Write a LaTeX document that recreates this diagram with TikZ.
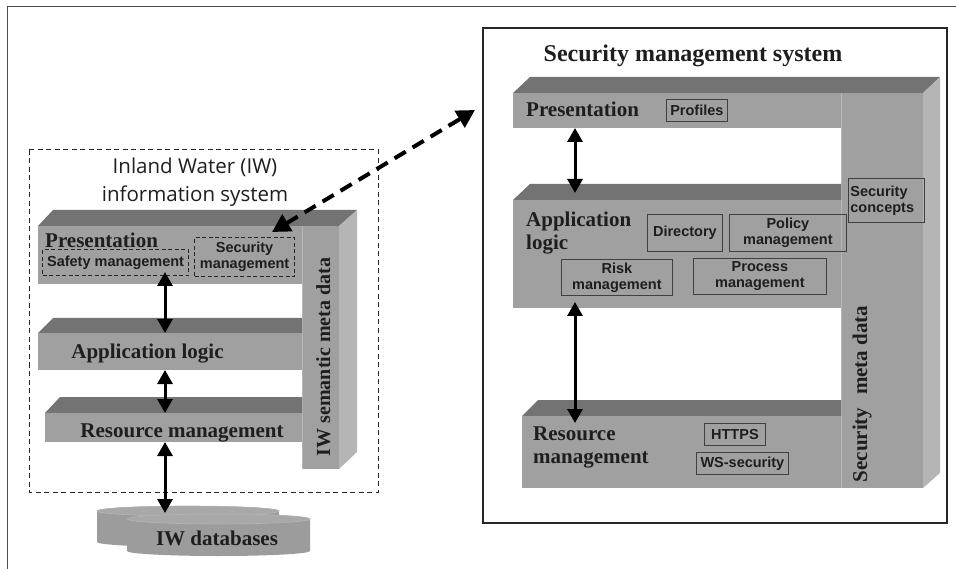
\documentclass[tikz,border=0pt]{standalone}
\usepackage{fontspec}
\setmainfont{Liberation Serif}
\setsansfont{Liberation Sans}
\newfontfamily\captionfont{Open Sans}
\usetikzlibrary{arrows.meta}
\definecolor{gfront}{HTML}{A0A0A0}
\definecolor{gtop}{HTML}{737373}
\definecolor{gside}{HTML}{B5B5B5}
\definecolor{gdb}{HTML}{9C9C9C}
\definecolor{gdbtop}{HTML}{A8A8A8}
\definecolor{ink}{HTML}{1E1E1E}
\begin{document}
\begin{tikzpicture}[x=1pt,y=-1pt,
  frontface/.style={fill=gfront},
  topface/.style={fill=gtop},
  sideface/.style={fill=gside},
  layertitle/.style={font=\fontsize{21}{23}\selectfont\bfseries, text=ink, inner sep=0pt, align=left},
  itembox/.style={draw=black!75, line width=0.8pt, font=\fontsize{14.5}{16}\selectfont\sffamily\bfseries,
    text=ink, inner sep=1pt, align=center, anchor=north west},
  dashbox/.style={draw=black!85, line width=1.2pt, dash pattern=on 4pt off 2.5pt,
    font=\fontsize{14.5}{16}\selectfont\sffamily\bfseries, text=ink, inner sep=1pt, align=center, anchor=north west},
  biarrow/.style={line width=3pt, {Triangle[width=15pt,length=14pt]}-{Triangle[width=15pt,length=14pt]}},
  linkarrow/.style={line width=4pt, dash pattern=on 13pt off 8pt,
    {Triangle[width=19pt,length=18pt]}-{Triangle[width=19pt,length=18pt]}},
]
\useasboundingbox (0,0) rectangle (956,569);

% frame along the top and left edges
\draw[line width=1pt, black!70] (7,569) -- (7,6.5) -- (956,6.5);

% ---------- Inland Water information system ----------
\draw[black!85, line width=1pt, dash pattern=on 5pt off 3.5pt] (29,150) rectangle (378,492);
\node[font=\captionfont\fontsize{20.5}{28}\selectfont, align=center, text=ink] (iwcap) at (195,182)
  {Inland Water (IW)\\information system};

% top faces and meta-data column
\fill[topface] (38,226) -- (53,210) -- (357,210) -- (339,226) -- cycle;
\fill[sideface] (339,226) -- (357,210) -- (357,452) -- (339,469) -- cycle;
\fill[frontface] (302,226) rectangle (339,469);
\draw[gside, line width=0.6pt] (302,226) -- (302,469);
\fill[topface] (38,333) -- (53,318) -- (302,318) -- (302,333) -- cycle;
\fill[topface] (45,413) -- (60,397) -- (302,397) -- (302,413) -- cycle;

% layer fronts
\node[frontface, minimum width=264pt, minimum height=58pt, anchor=north west, inner sep=0pt] (lpres) at (38,226) {};
\node[frontface, minimum width=264pt, minimum height=37pt, anchor=north west, inner sep=0pt] (lapp) at (38,333) {};
\node[frontface, minimum width=257pt, minimum height=29pt, anchor=north west, inner sep=0pt] (lres) at (45,413) {};

\node[layertitle, anchor=base west] (lprestext) at (45,248) {Presentation};
\node[layertitle, anchor=base] (lapptext) at (147.5,359) {Application logic};
\node[layertitle, anchor=base] (lrestext) at (182,437) {Resource management};
\node[layertitle, rotate=90, anchor=base, font=\fontsize{20}{22}\selectfont\bfseries] (lmeta) at (330,357)
  {IW semantic meta data};

\node[dashbox, minimum width=146pt, minimum height=26pt] (safety) at (42,249) {Safety management};
\node[dashbox, minimum width=100pt, minimum height=39pt] (secmgmt) at (194,237) {Security\\management};

% databases
\fill[gdb] (97,511) -- (97,542) arc[start angle=180, end angle=360, x radius=91pt, y radius=5pt]
  -- (279,511) arc[start angle=0, end angle=180, x radius=91pt, y radius=5pt] -- cycle;
\filldraw[fill=gdbtop, draw=gside, line width=0.6pt] (188,511) ellipse[x radius=91pt, y radius=5pt];
\fill[gdb] (127,519) -- (127,551) arc[start angle=180, end angle=360, x radius=91.5pt, y radius=5pt]
  -- (310,519) arc[start angle=0, end angle=180, x radius=91.5pt, y radius=5pt] -- cycle;
\filldraw[fill=gdbtop, draw=gside, line width=0.6pt] (218.5,519) ellipse[x radius=91.5pt, y radius=5pt];
\node[layertitle, anchor=base] (db) at (217,545) {IW databases};

% connectors between the layers
\coordinate (lp1) at (165,272);
\coordinate (la1) at (165,333);
\coordinate (la2) at (165,370);
\coordinate (lr1) at (165,413);
\coordinate (lr2) at (165,442);
\coordinate (db1) at (165,513);
\draw[biarrow] (lp1) -- (la1);
\draw[biarrow] (la2) -- (lr1);
\draw[biarrow] (lr2) -- (db1);

% ---------- Security management system ----------
\draw[line width=1.3pt, black!85] (483,28) rectangle (947,523);
\node[font=\fontsize{24}{26}\selectfont\bfseries, text=ink, anchor=base] (smstitle) at (693,62)
  {Security management system};

\fill[topface] (513,93) -- (530,77) -- (940,77) -- (923,93) -- cycle;
\fill[sideface] (923,93) -- (940,77) -- (940,473) -- (923,488) -- cycle;
\fill[frontface] (841,93) rectangle (923,488);
\draw[gside, line width=0.6pt] (841,93) -- (841,488);
\fill[topface] (513,200) -- (530,184) -- (841,184) -- (841,200) -- cycle;
\fill[topface] (522,416) -- (538,400) -- (841,400) -- (841,416) -- cycle;

\node[frontface, minimum width=328pt, minimum height=35pt, anchor=north west, inner sep=0pt] (rpres) at (513,93) {};
\node[frontface, minimum width=328pt, minimum height=108pt, anchor=north west, inner sep=0pt] (rapp) at (513,200) {};
\node[frontface, minimum width=319pt, minimum height=72pt, anchor=north west, inner sep=0pt] (rres) at (522,416) {};

\node[layertitle, anchor=base west] (rprestext) at (526,117) {Presentation};
\node[layertitle, anchor=north west] (rapptext) at (526,212) {Application\\logic};
\node[layertitle, anchor=north west] (rrestext) at (533,427) {Resource\\management};
\node[layertitle, rotate=90, anchor=base] (rmeta) at (867,394) {Security\hspace{0.35em} meta data};

\node[itembox, minimum width=61pt, minimum height=22pt] (profiles) at (666,99) {Profiles};
\node[itembox, minimum width=75pt, minimum height=37pt] (directory) at (647,214) {Directory};
\node[itembox, minimum width=117pt, minimum height=37pt] (policy) at (729,214) {Policy\\management};
\node[itembox, minimum width=76pt, minimum height=44pt, align=left, text width=72pt] (concepts) at (848,178)
  {Security\\concepts};
\node[itembox, minimum width=111pt, minimum height=36pt] (risk) at (561,259) {Risk\\management};
\node[itembox, minimum width=133pt, minimum height=36pt] (process) at (693,258) {Process\\management};
\node[itembox, minimum width=61pt, minimum height=22pt] (https) at (704,423) {HTTPS};
\node[itembox, minimum width=92pt, minimum height=22pt] (wssec) at (696,452) {WS-security};

\coordinate (rp1) at (575,128);
\coordinate (ra1) at (575,193);
\coordinate (ra2) at (575,302);
\coordinate (rr1) at (575,423);
\draw[biarrow] (rp1) -- (ra1);
\draw[biarrow] (ra2) -- (rr1);

% link from the security component to the security system
\coordinate (linkA) at (272,232);
\coordinate (linkB) at (475,110);
\draw[linkarrow] (linkA) -- (linkB);
\end{tikzpicture}
\end{document}
